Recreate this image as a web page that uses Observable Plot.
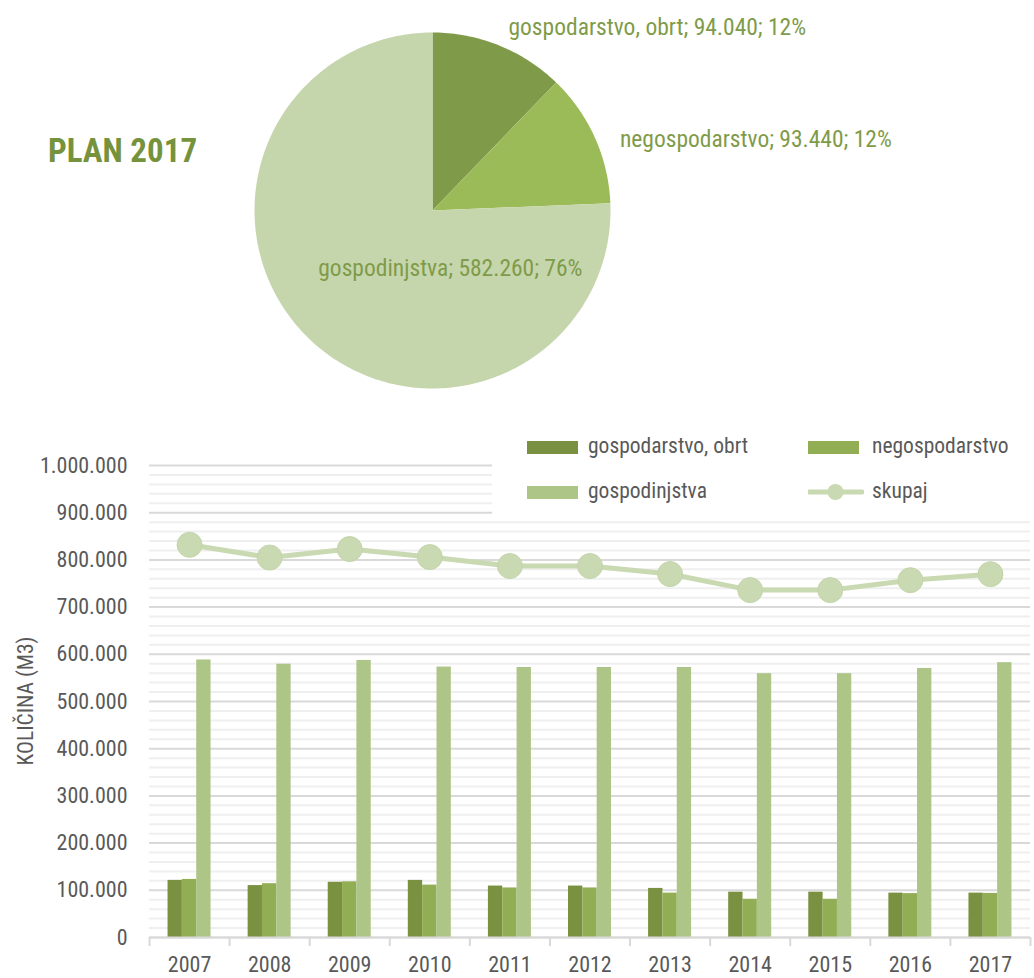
<!DOCTYPE html>
<html><head><meta charset="utf-8">
<script src="https://cdn.jsdelivr.net/npm/d3@7"></script>
<script src="https://cdn.jsdelivr.net/npm/@observablehq/plot@0.6"></script>
<style>
body{margin:0;background:#fff;}
#wrap{position:relative;width:1034px;height:978px;overflow:hidden;font-family:"Roboto Condensed","Open Sans",sans-serif;}
#pie{position:absolute;left:0;top:0;}
#bars{position:absolute;left:0;top:410px;}
#title{position:absolute;left:48px;top:133px;font-size:33px;line-height:36px;font-weight:bold;color:#76923c;white-space:nowrap;}
#ylabel{position:absolute;left:26px;top:701px;transform:translate(-50%,-50%) rotate(-90deg);font-size:21.5px;line-height:24px;color:#595959;white-space:nowrap;}
#legend{position:absolute;left:492px;top:420px;width:542px;height:97px;background:#fff;}
.li{position:absolute;font-size:21.5px;line-height:26px;color:#595959;white-space:nowrap;}
.sw{position:absolute;height:13px;}
</style></head><body><div id="wrap">
<div id="pie"></div><div id="bars"></div>
<div id="title">PLAN 2017</div>
<div id="ylabel"></div>
<div id="legend"></div>
</div>
<script>
// ---- data ----
const pieCategories = ["gospodarstvo, obrt", "negospodarstvo", "gospodinjstva"];
const pieValues = [94040, 93440, 582260];
const years = [2007, 2008, 2009, 2010, 2011, 2012, 2013, 2014, 2015, 2016, 2017];
const gospodarstvo = [121000, 110000, 117000, 121000, 109000, 109000, 104000, 96000, 96000, 94000, 94040];
const negospodarstvo = [123000, 114000, 118000, 111000, 105000, 105000, 94000, 81000, 81000, 93000, 93440];
const gospodinjstva = [588000, 579000, 587000, 573000, 572000, 572000, 572000, 559000, 559000, 570000, 582260];
const skupaj = [832000, 805000, 823000, 806000, 787000, 787000, 770000, 736000, 736000, 757000, 769740];
const seriesNames = ["gospodarstvo, obrt", "negospodarstvo", "gospodinjstva"];
const lineName = "skupaj";
const yTicks = [0, 100000, 200000, 300000, 400000, 500000, 600000, 700000, 800000, 900000, 1000000];
const yLabel = "KOLIČINA (M3)";

// ---- styles ----
const pieColors = ["#7f9b49", "#9bbb59", "#c6d6ac"];
const barColors = ["#7a9142", "#92ae55", "#adc587"];
const lineColor = "#c9d9b1";
const FS = 23.5, AXFS = 22;
const fmt = d3.formatLocale({decimal: ",", thousands: ".", grouping: [3], currency: ["", ""]}).format(",");

// ---- pie ----
const total = d3.sum(pieValues);
let acc = 0;
const slices = pieCategories.map((c, i) => {
  const a0 = acc / total * 2 * Math.PI; acc += pieValues[i];
  const a1 = acc / total * 2 * Math.PI;
  return {c, i, v: pieValues[i], a0, a1, mid: (a0 + a1) / 2, share: pieValues[i] / total};
});
function slicePts(s) {
  const n = Math.max(2, Math.ceil((s.a1 - s.a0) / (Math.PI / 180)));
  const pts = [{x: 0, y: 0}];
  for (let j = 0; j <= n; j++) { const a = s.a0 + (s.a1 - s.a0) * j / n; pts.push({x: Math.sin(a), y: Math.cos(a)}); }
  return pts;
}
const labelLayout = [
  {k: 1.08, anchor: "start", dx: 4, dy: -5},
  {k: 1.08, anchor: "start", dx: 12, dy: 8},
  {k: 0.35, anchor: "middle", dx: 61, dy: 13}
];
const pieMarks = slices.map(s => Plot.line(slicePts(s), {x: "x", y: "y", fill: pieColors[s.i], stroke: "none", curve: "linear-closed"}));
slices.forEach(s => {
  const L = labelLayout[s.i];
  pieMarks.push(Plot.text([s], {
    x: d => Math.sin(d.mid) * L.k, y: d => Math.cos(d.mid) * L.k,
    text: d => `${d.c}; ${fmt(d.v)}; ${Math.round(d.share * 100)}%`,
    textAnchor: L.anchor, dx: L.dx, dy: L.dy, fill: "#7f9b49", fontSize: FS
  }));
});
const pie = Plot.plot({
  width: 1034, height: 400,
  marginLeft: 254, marginRight: 424, marginTop: 32, marginBottom: 12,
  x: {domain: [-1, 1], axis: null}, y: {domain: [-1, 1], axis: null},
  style: {fontFamily: "inherit", background: "transparent"},
  marks: pieMarks
});
document.getElementById("pie").appendChild(pie);

// ---- bars ----
const seriesVals = [gospodarstvo, negospodarstvo, gospodinjstva];
const rows = years.flatMap((yr, i) => seriesNames.map((s, j) => ({year: yr, series: s, j, value: seriesVals[j][i]})));
const lineRows = years.map((yr, i) => ({year: yr, value: skupaj[i]}));
const groupFrac = 0.537, barFrac = groupFrac / 3;
const minorTicks = d3.range(0, 1000001, 20000).filter(v => v % 100000 !== 0);
const bounds = years.map(y => y - 0.5).concat([years[years.length - 1] + 0.5]);

const bars = Plot.plot({
  width: 1034, height: 568,
  marginTop: 55, marginBottom: 41, marginLeft: 149, marginRight: 4,
  x: {domain: [years[0] - 0.5, years[years.length - 1] + 0.5], label: null},
  y: {domain: [0, 1000000], label: null},
  color: {domain: seriesNames, range: barColors},
  style: {fontFamily: "inherit", fontSize: AXFS + "px", color: "#595959", background: "transparent"},
  marks: [
    Plot.ruleY(minorTicks, {stroke: "#efefef", strokeWidth: 2}),
    Plot.ruleY(yTicks, {stroke: "#d9d9d9", strokeWidth: 2}),
    Plot.rect(rows, {
      x1: d => d.year - groupFrac / 2 + d.j * barFrac,
      x2: d => d.year - groupFrac / 2 + (d.j + 1) * barFrac,
      y1: 0, y2: "value", fill: "series"
    }),
    Plot.ruleY([0], {stroke: "#d9d9d9", strokeWidth: 2}),
    Plot.axisX({ticks: bounds, tickSize: 9, tickFormat: () => "", stroke: "#d9d9d9", strokeWidth: 2, label: null}),
    Plot.axisX({ticks: years, tickSize: 0, tickPadding: 19, tickFormat: d => String(d), label: null}),
    Plot.axisY({ticks: yTicks, tickSize: 0, tickPadding: 22, tickFormat: fmt, label: null}),
    Plot.line(lineRows, {x: "year", y: "value", stroke: lineColor, strokeWidth: 5}),
    Plot.dot(lineRows, {x: "year", y: "value", r: 12.5, fill: lineColor, stroke: "#c4d5aa", strokeWidth: 1})
  ]
});
document.getElementById("bars").appendChild(bars);
document.getElementById("ylabel").textContent = yLabel;

// ---- legend ----
const leg = document.getElementById("legend");
const legItems = [
  {name: seriesNames[0], color: barColors[0], col: 0, row: 0},
  {name: seriesNames[1], color: barColors[1], col: 1, row: 0},
  {name: seriesNames[2], color: barColors[2], col: 0, row: 1},
  {name: lineName, color: lineColor, col: 1, row: 1, line: true}
];
legItems.forEach(it => {
  const cx = it.col === 0 ? 35 : 316, cy = it.row === 0 ? 27 : 72;
  if (it.line) {
    const s = document.createElementNS("http://www.w3.org/2000/svg", "svg");
    s.setAttribute("width", 56); s.setAttribute("height", 20);
    s.style.position = "absolute"; s.style.left = cx + "px"; s.style.top = (cy - 10) + "px";
    s.innerHTML = `<line x1="1" y1="10" x2="54" y2="10" stroke="${it.color}" stroke-width="5" stroke-linecap="round"/><circle cx="27.5" cy="10" r="8" fill="${it.color}"/>`;
    leg.appendChild(s);
  } else {
    const sw = document.createElement("div");
    sw.className = "sw"; sw.style.left = cx + "px"; sw.style.top = (cy - 6) + "px";
    sw.style.width = "51px"; sw.style.background = it.color;
    leg.appendChild(sw);
  }
  const t = document.createElement("div");
  t.className = "li"; t.textContent = it.name;
  t.style.left = (cx + (it.col === 0 ? 61 : 64)) + "px"; t.style.top = (cy - 14) + "px";
  leg.appendChild(t);
});
</script></body></html>
